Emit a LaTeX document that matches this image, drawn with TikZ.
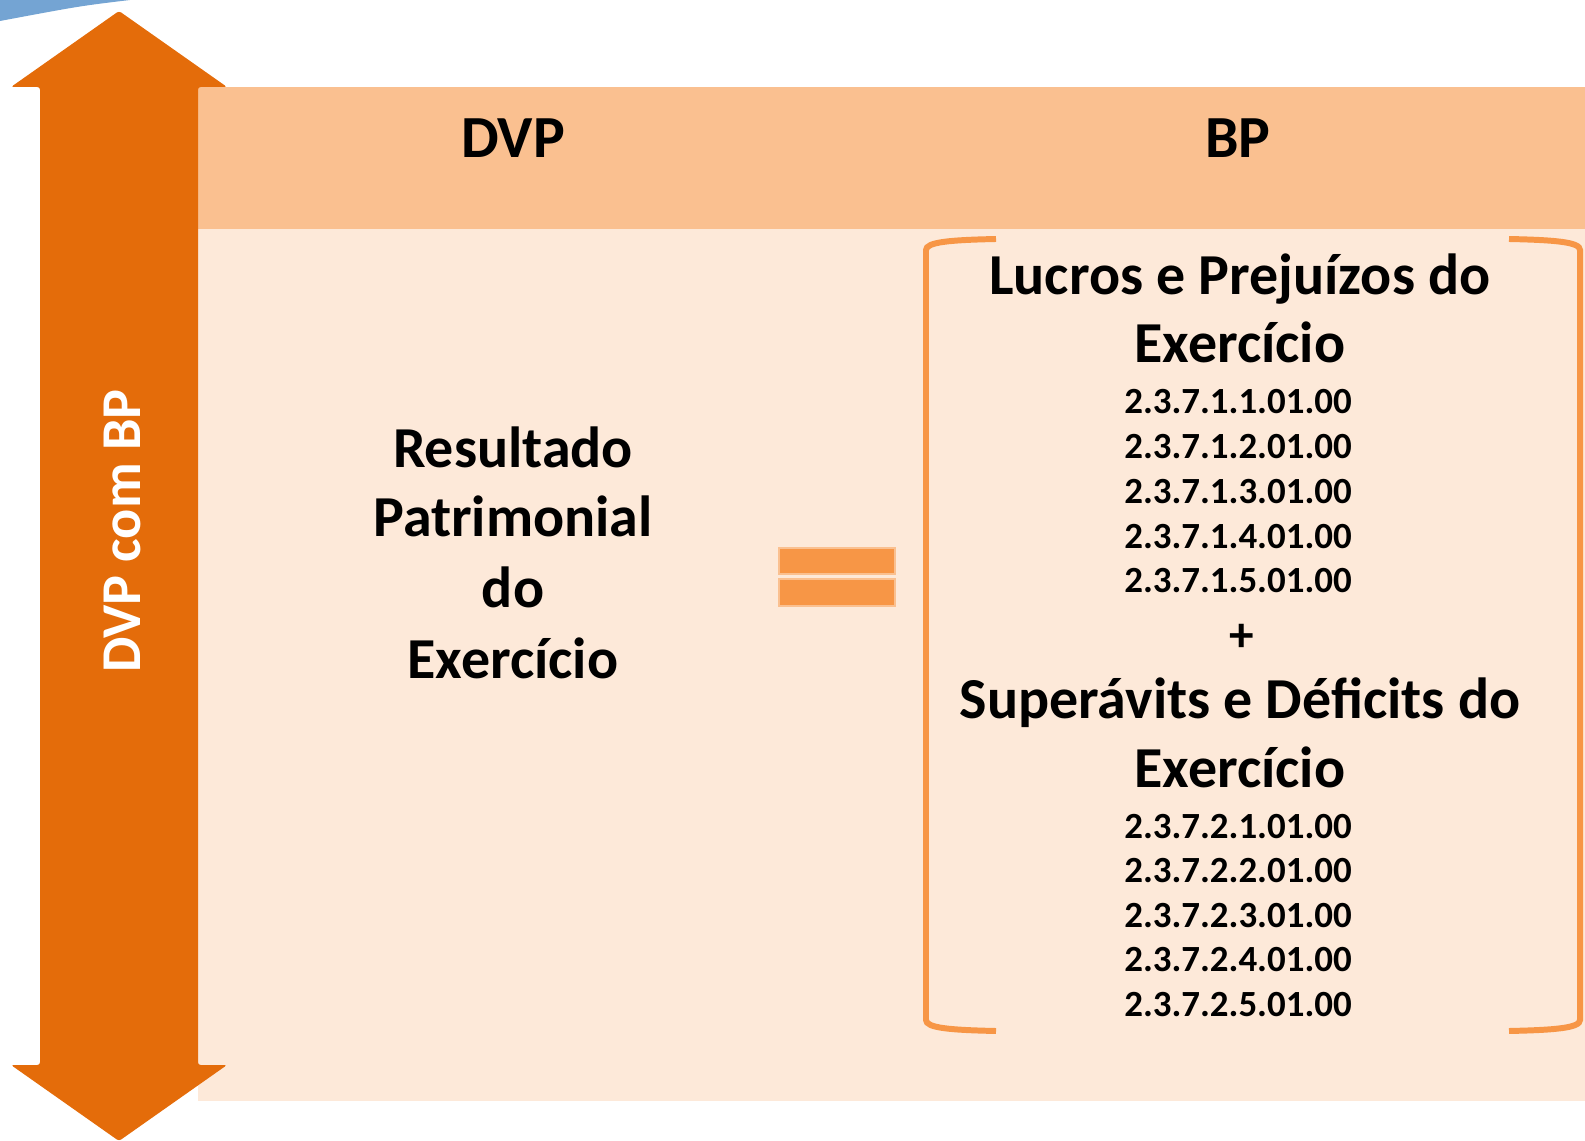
\documentclass[tikz,border=0pt]{standalone}
\usepackage{fontspec}
\setmainfont{Carlito}
\usetikzlibrary{positioning,calc}
\definecolor{arroworange}{HTML}{E46C0A}
\definecolor{headpeach}{HTML}{FAC090}
\definecolor{bodypeach}{HTML}{FDE9D9}
\definecolor{markorange}{HTML}{F79646}
\definecolor{swoopblue}{HTML}{74A4D3}
\tikzstyle{headtxt}=[anchor=base, inner sep=0pt, font=\fontsize{34}{41}\selectfont\bfseries]
\tikzstyle{bigtxt}=[anchor=base, inner sep=0pt, font=\fontsize{33}{40}\selectfont\bfseries]
\tikzstyle{codetxt}=[anchor=base, inner sep=0pt, font=\fontsize{21}{25}\selectfont\bfseries]
\tikzstyle{plustxt}=[anchor=base, inner sep=0pt, font=\fontsize{28}{34}\selectfont\bfseries]
\tikzstyle{arrowtxt}=[anchor=base, inner sep=0pt, rotate=90, text=white,
                      font=\fontsize{32}{38}\selectfont\bfseries]
\tikzstyle{bracket}=[draw=markorange, line width=3.4pt]
\tikzstyle{eqbar}=[fill=markorange, draw=headpeach, line width=0.6pt]

\begin{document}
\begin{tikzpicture}[x=0.02cm, y=-0.02cm]
\useasboundingbox (0,0) rectangle (1585,1141);

% panels
\fill[headpeach] (198,87) rectangle (1585,229);
\fill[bodypeach] (198,229) rectangle (1585,1101);
\fill[swoopblue] (0,0) -- (130,0) .. controls (80,6) .. (0,21) -- cycle;

% double arrow
\fill[arroworange, rounded corners=1.5pt] (119,11) -- (227,87) -- (198,87) -- (198,1065)
  -- (227,1065) -- (119,1141) -- (11,1065) -- (40,1065) -- (40,87) -- (11,87) -- cycle;
\node[arrowtxt] (DVPBP) at (140,531) {DVP com BP};

% header
\node[headtxt] (DVP) at (513,158) {DVP};
\node[headtxt] (BP) at (1238,158) {BP};

% left column
\node[bigtxt] (RES) at (513,468) {Resultado};
\node[bigtxt] (PAT) at ($(RES.base)+(0,69)$) {Patrimonial};
\node[bigtxt] (DO) at ($(PAT.base)+(0,70)$) {do};
\node[bigtxt] (EXE) at ($(DO.base)+(0,71)$) {Exercício};

% equals sign
\draw[eqbar] (779,548) rectangle (895,574);
\draw[eqbar] (779,579) rectangle (895,606);

% right column
\node[bigtxt] (LPE) at (1240,295) {Lucros e Prejuízos do};
\node[bigtxt] (LPEX) at ($(LPE.base)+(0,68)$) {Exercício};
\foreach \i in {1,...,5}
  \node[codetxt] (LPC\i) at (1238,{414+44.7*(\i-1)}) {2.3.7.1.\i.01.00};
\node[plustxt] (PLUS) at (1242,651) {+};
\node[bigtxt] (SDE) at (1240,718) {Superávits e Déficits do};
\node[bigtxt] (SDEX) at ($(SDE.base)+(0,69)$) {Exercício};
\foreach \i in {1,...,5}
  \node[codetxt] (SDC\i) at (1238,{838+44.5*(\i-1)}) {2.3.7.2.\i.01.00};

% brackets
\draw[bracket] (996,239) .. controls (950,240) and (926,242) .. (926,250) -- (926,1020)
  .. controls (926,1028) and (950,1030) .. (996,1031);
\draw[bracket] (1509,239) .. controls (1555,240) and (1580,242) .. (1580,250) -- (1580,1020)
  .. controls (1580,1028) and (1555,1030) .. (1509,1031);

\end{tikzpicture}
\end{document}
